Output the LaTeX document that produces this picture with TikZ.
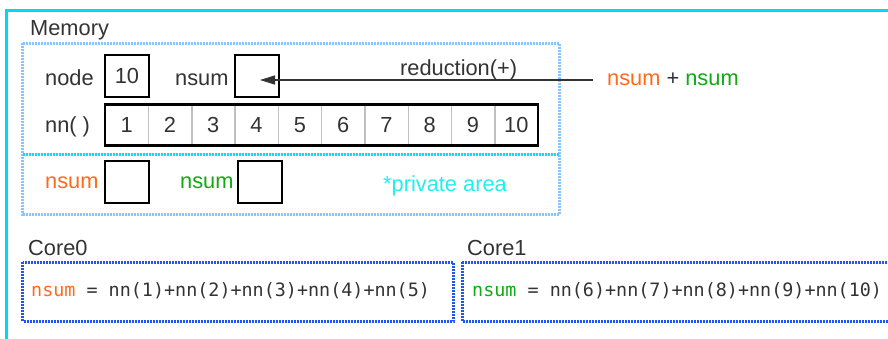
\documentclass[tikz,border=0pt]{standalone}
\usepackage{fontspec}
\setmainfont{Liberation Sans}
\newfontfamily\codefont{DejaVu Sans Mono}
\usetikzlibrary{arrows.meta}
\definecolor{txtgray}{HTML}{333333}
\definecolor{framecyan}{HTML}{00D8F5}
\definecolor{memblue}{HTML}{88C4FF}
\definecolor{divcyan}{HTML}{11D8FF}
\definecolor{coreblue}{HTML}{2255EE}
\definecolor{orng}{HTML}{FF6A1A}
\definecolor{grn}{HTML}{11AA11}
\definecolor{privcyan}{HTML}{22EEEE}
\definecolor{sepgray}{HTML}{C0C0C0}
\begin{document}
\begin{tikzpicture}[x=1pt,y=-1pt,
  lbl/.style={inner sep=0pt, anchor=base west, text=txtgray, font=\fontsize{21.8}{26}\selectfont},
  code/.style={inner sep=0pt, anchor=base west, text=txtgray, font=\codefont\fontsize{18.4}{22}\selectfont},
  cell/.style={draw=black, line width=2.5pt, inner sep=0pt, minimum width=44pt, minimum height=42pt, text=txtgray, font=\fontsize{21.8}{26}\selectfont},
  memarea/.style={draw=memblue, line width=3pt, dash pattern=on 2pt off 1pt},
  corearea/.style={draw=coreblue, line width=3pt, dash pattern=on 2pt off 1pt}
]
\useasboundingbox (0,0) rectangle (888,338);
\clip (0,0) rectangle (888,338);
\fill[white] (0,0) rectangle (888,338);

% outer frame
\draw[framecyan, line width=3pt] (6.5,10) rectangle (920,360);

% memory
\node[lbl] (memlbl) at (30,35) {Memory};
\draw[memarea] (22.5,43) rectangle (559,214);
\draw[divcyan, line width=3pt, dash pattern=on 2pt off 1pt] (22.5,154) -- (559,154);

% node / nsum
\node[lbl] (nodelbl) at (45,85) {node};
\node[cell] (nodebox) at (127,76) {10};
\node[lbl] (nsumlbl) at (175,85) {nsum};
\node[cell] (nsumbox) at (257,76) {};

% reduction arrow
\node[lbl] (redlbl) at (400,75) {reduction(+)};
\node[lbl] (sumexpr) at (607,85) {\textcolor{orng}{nsum} + \textcolor{grn}{nsum}};
\coordinate (src) at (593,80);
\coordinate (tip) at (260,80);
\draw[txtgray, line width=1.3pt, -{Triangle[length=15pt,width=9pt]}] (src) -- (tip);

% nn array
\node[lbl] (nnlbl) at (45,132) {nn( )};
\foreach \i in {1,...,10} {
  \node[inner sep=0pt, minimum width=43.3pt, minimum height=41pt, text=txtgray, font=\fontsize{21.8}{26}\selectfont] (c\i) at ({105+43.3*(\i-0.5)},125) {\i};
}
\foreach \i in {1,...,9} {
  \draw[sepgray, line width=1.5pt] (c\i.north east) -- (c\i.south east);
}
\draw[black, line width=2.5pt] (c1.north west) rectangle (c10.south east);

% private area
\node[lbl, text=orng] (pnsum0) at (45,188) {nsum};
\node[cell] (pbox0) at (127,182) {};
\node[lbl, text=grn] (pnsum1) at (180,188) {nsum};
\node[cell] (pbox1) at (260,182) {};
\node[lbl, text=privcyan] (privlbl) at (383,191) {*private area};

% cores
\node[lbl] (core0lbl) at (28,255) {Core0};
\draw[corearea] (22.5,262) rectangle (453,321);
\node[code] (core0txt) at (31,296) {\textcolor{orng}{nsum} = nn(1)+nn(2)+nn(3)+nn(4)+nn(5)};
\node[lbl] (core1lbl) at (467,255) {Core1};
\draw[corearea] (462,262) rectangle (920,321);
\node[code] (core1txt) at (472,296) {\textcolor{grn}{nsum} = nn(6)+nn(7)+nn(8)+nn(9)+nn(10)};
\end{tikzpicture}
\end{document}
